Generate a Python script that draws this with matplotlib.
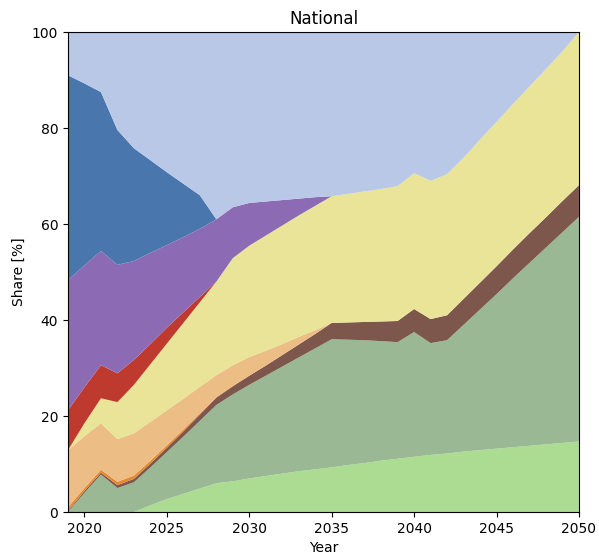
import numpy as np
import matplotlib.pyplot as plt

years = np.arange(2019, 2051)

# shares in % per technology, bottom to top
light_green = [0, 0, 0, 0, 0, 1.4, 2.7, 3.8, 4.9, 6.0, 6.4, 7.0, 7.5, 8.0, 8.5, 8.9,
               9.3, 9.8, 10.2, 10.7, 11.1, 11.5, 11.9, 12.2, 12.6, 12.9, 13.2, 13.5,
               13.8, 14.1, 14.4, 14.7]
sage = [0, 4.0, 7.8, 5.0, 6.2, 7.9, 9.8, 11.9, 14.1, 16.3, 18.1, 19.5, 20.9, 22.3,
        23.7, 25.2, 26.7, 26.1, 25.6, 24.9, 24.3, 26.0, 23.3, 23.6, 26.4, 29.3, 32.2,
        35.2, 38.1, 41.0, 43.9, 46.8]
brown = [0.2, 0.4, 0.4, 0.6, 0.7, 0.8, 0.9, 1.1, 1.3, 1.5, 1.7, 1.9, 2.1, 2.4, 2.7,
         3.0, 3.4, 3.6, 3.8, 4.1, 4.4, 4.8, 5.0, 5.2, 5.4, 5.6, 5.8, 6.0, 6.2, 6.3,
         6.5, 6.6]
orange = [0.8, 0.6, 0.6, 0.7, 0.7, 0.6, 0.5, 0.4, 0.3, 0.2, 0.1] + [0] * 21
tan = [11.9, 10.8, 9.7, 8.9, 8.8, 8.1, 7.3, 6.4, 5.5, 4.5, 4.3, 3.9, 3.1, 2.3, 1.6,
       0.8] + [0] * 16
yellow = [0, 2.7, 5.2, 7.7, 10.1, 12.0, 13.9, 15.8, 17.6, 19.5, 22.3, 23.2, 24.0,
          24.7, 25.3, 25.9, 26.4, 26.8, 27.2, 27.6, 28.1, 28.3, 28.8, 29.4, 29.4,
          29.8, 30.1, 30.3, 30.6, 30.9, 31.2, 31.9]
red = [8.3, 7.5, 6.9, 6.0, 5.2, 4.2, 3.3, 2.2, 1.1] + [0] * 23
purple = [27.1, 25.4, 23.8, 22.6, 20.6, 19.0, 17.2, 15.7, 14.2, 13.0, 10.6, 8.9, 7.1,
          5.3, 3.5, 1.8] + [0] * 16
blue = [42.7, 37.9, 33.1, 28.1, 23.5, 19.3, 15.2, 11.1, 7.0] + [0] * 23

layers = [light_green, sage, brown, orange, tan, yellow, red, purple, blue]
rest = 100 - np.sum(np.array(layers), axis=0)
layers.append(np.clip(rest, 0, None))

colors = ['#acdc91', '#99b893', '#7d574c', '#e6892e', '#ecbe85',
          '#eae498', '#be3a2f', '#8c6bb4', '#4a76ae', '#b8c8e6']

fig = plt.figure(figsize=(5.99, 5.6), dpi=100)
ax = fig.add_axes([0.1135, 0.0857, 0.853, 0.857])
ax.stackplot(years, *layers, colors=colors)
ax.set_xlim(2019, 2050)
ax.set_ylim(0, 100)
ax.set_title('National')
ax.set_xlabel('Year')
ax.set_ylabel('Share [%]')
fig.savefig('out.png')
